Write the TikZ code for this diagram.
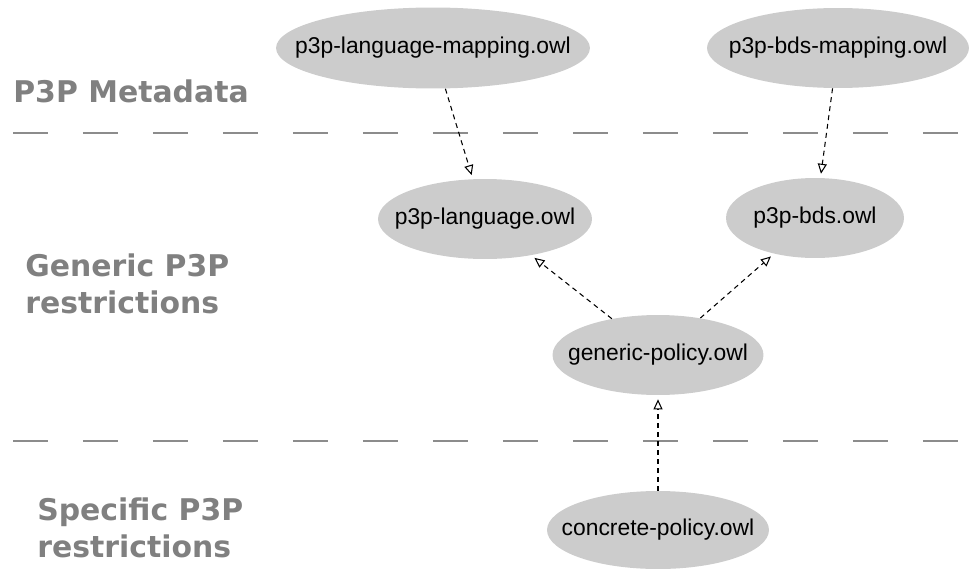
\documentclass[tikz,border=0pt]{standalone}
\usepackage{fontspec}
\setmainfont{Liberation Sans}
\newfontfamily\layerfont{DejaVu Sans}
\usepackage{tikz}
\usetikzlibrary{shapes.geometric,arrows.meta}

\begin{document}
\begin{tikzpicture}[x=0.02cm,y=-0.02cm,
  owl/.style={shape=ellipse,fill=black!20,inner sep=0pt,font=\fontsize{13pt}{15pt}\selectfont},
  imp/.style={-{Triangle[open,length=2mm,width=1.8mm]},dash pattern=on 1mm off 0.8mm,line width=0.6pt,shorten >=0.8mm},
  layersep/.style={draw=black!45,line width=0.6pt,dash pattern=on 0.7cm off 0.7cm},
  layertext/.style={anchor=west,inner sep=0pt,align=left,text=black!50,font=\layerfont\bfseries\fontsize{17pt}{21pt}\selectfont}]
%[line width=1pt]
\useasboundingbox (0,0) rectangle (969,568);

\draw [layersep] (13,133) -- (969,133);
\draw [layersep] (13,441) -- (969,441);

\path (13,91) node (meta) [layertext] {P3P Metadata};
\path (25,284) node (generic) [layertext] {Generic P3P\\restrictions};
\path (37,528) node (specific) [layertext] {Specific P3P\\restrictions};

\path (433,48) node (lmap) [owl,minimum width=6.28cm,minimum height=1.62cm] {\makebox[0pt]{p3p-language-mapping.owl}};
\path (838,48) node (bmap) [owl,minimum width=5.24cm,minimum height=1.6cm] {\makebox[0pt]{p3p-bds-mapping.owl}};
\path (485,219) node (lang) [owl,minimum width=4.28cm,minimum height=1.6cm] {\makebox[0pt]{p3p-language.owl}};
\path (815,218) node (bds) [owl,minimum width=3.56cm,minimum height=1.6cm] {\makebox[0pt]{p3p-bds.owl}};
\path (658,355) node (gp) [owl,minimum width=4.22cm,minimum height=1.6cm] {\makebox[0pt]{generic-policy.owl}};
\path (658,530) node (cp) [owl,minimum width=4.44cm,minimum height=1.56cm] {\makebox[0pt]{concrete-policy.owl}};

\draw [imp] (lmap) to (lang);
\draw [imp] (bmap) to (bds);
\draw [imp] (gp) to (lang);
\draw [imp] (gp) to (bds);
\draw [imp] (cp) to (gp);
\end{tikzpicture}
\end{document}
